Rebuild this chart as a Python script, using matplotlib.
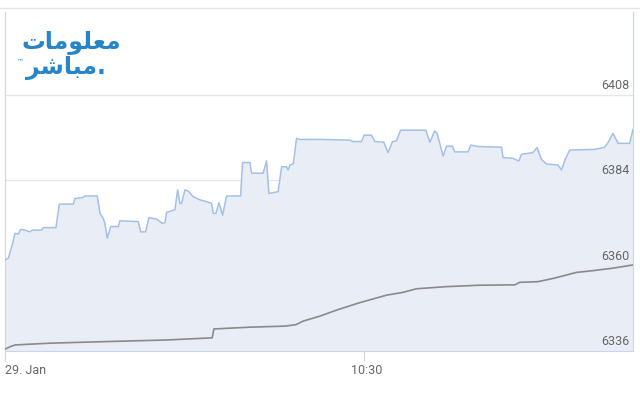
import matplotlib.pyplot as plt
from matplotlib.lines import Line2D

# minutes after the open (10:00)
blue_t = [0, 0.28, 0.56, 0.84, 1.11, 1.31, 1.67, 2.09, 2.28, 3.07, 3.20, 4.26,
          4.54, 5.71, 5.85, 6.54, 6.68, 7.71, 7.94, 8.21, 8.35, 8.55, 8.83, 9.47,
          9.61, 11.14, 11.34, 11.75, 12.03, 12.67, 13.14, 13.37, 13.51, 14.20,
          14.43, 14.62, 14.76, 15.04, 15.31, 15.73, 16.29, 16.85, 17.27, 17.40,
          17.63, 17.88, 18.19, 18.52, 19.69, 19.86, 20.47, 20.61, 21.58, 21.86,
          22.06, 22.83, 23.12, 23.53, 23.67, 23.81, 24.09, 24.37, 24.64, 26.32,
          28.82, 29.10, 29.80, 30.02, 30.63, 30.91, 31.66, 32.02, 32.39, 32.72,
          33.06, 35.17, 35.51, 35.92, 36.12, 36.62, 36.90, 37.40, 37.59, 38.71,
          38.93, 39.54, 41.50, 41.63, 42.46, 42.94, 43.17, 44.13, 44.47, 44.84,
          45.25, 46.22, 46.51, 46.84, 47.20, 49.29, 50.13, 50.40, 50.82, 51.24,
          52.21, 52.49]
blue_v = [6361.6, 6362.1, 6365.3, 6369.1, 6368.9, 6370.2, 6370.0, 6369.5, 6370.0,
          6370.0, 6370.7, 6370.7, 6377.3, 6377.3, 6378.9, 6379.2, 6379.6, 6379.6,
          6374.7, 6373.3, 6371.9, 6367.7, 6371.0, 6371.0, 6372.6, 6372.4, 6369.5,
          6369.5, 6373.5, 6373.1, 6371.9, 6372.1, 6375.0, 6375.7, 6381.3, 6377.5,
          6377.5, 6381.3, 6381.0, 6379.4, 6378.5, 6378.0, 6377.5, 6374.7, 6374.7,
          6377.7, 6374.2, 6379.6, 6379.6, 6389.0, 6389.0, 6386.0, 6386.0, 6389.5,
          6380.3, 6380.8, 6387.8, 6387.8, 6386.9, 6388.3, 6388.6, 6395.8, 6395.5,
          6395.5, 6395.3, 6394.9, 6394.9, 6396.7, 6396.7, 6394.9, 6394.7, 6391.8,
          6394.9, 6395.1, 6398.1, 6398.1, 6394.7, 6397.9, 6397.2, 6390.8, 6393.6,
          6393.6, 6392.0, 6392.0, 6393.9, 6393.5, 6393.3, 6390.4, 6390.2, 6389.4,
          6391.3, 6391.8, 6393.2, 6389.9, 6388.6, 6388.3, 6386.9, 6390.0, 6392.5,
          6392.7, 6393.3, 6394.6, 6397.2, 6394.4, 6394.4, 6398.3]

gray_t = [0, 0.42, 0.84, 3.76, 7.94, 13.51, 17.32, 17.46, 20.47, 23.39, 24.31,
          24.92, 26.32, 27.71, 29.66, 31.89, 33.28, 34.39, 36.90, 39.68, 42.61,
          43.02, 44.55, 45.81, 47.76, 49.15, 50.82, 52.49]
gray_v = [6336.5, 6337.2, 6337.7, 6338.2, 6338.6, 6339.1, 6339.7, 6342.2, 6342.7,
          6343.0, 6343.4, 6344.4, 6345.8, 6347.5, 6349.6, 6351.7, 6352.5, 6353.5,
          6354.1, 6354.5, 6354.6, 6355.3, 6355.5, 6356.4, 6358.1, 6358.6, 6359.3,
          6360.2]

y_ticks = [6336, 6360, 6384, 6408]
x_ticks = [0, 30]
x_labels = ["29. Jan", "10:30"]

label_kw = dict(family=["Roboto", "DejaVu Sans"], fontsize=9, color="#666666")

fig = plt.figure(figsize=(6.4, 4.0), dpi=100)
ax = fig.add_axes([5 / 640, 49 / 400, 628 / 640, 339 / 400])
ax.set_xlim(0, blue_t[-1])
ax.set_ylim(6336, 6336 + 339 / 3.556)

for v in y_ticks[1:]:
    ax.axhline(v, color="#e6e6e6", lw=1, zorder=0)

ax.fill_between(blue_t, blue_v, 6336, color="#e9edf5", lw=0, zorder=1)
ax.plot(blue_t, blue_v, color="#a3c0e5", lw=1.1, zorder=3)
ax.plot(gray_t, gray_v, color="#8a8a8a", lw=1.2, zorder=3)

for v in y_ticks:
    ax.annotate(str(v), xy=(1, v), xycoords=("axes fraction", "data"),
                xytext=(-3, 3), textcoords="offset pixels", ha="right", va="bottom",
                zorder=4, **label_kw)

ax.set_yticks([])
ax.set_xticks(x_ticks)
ax.set_xticklabels([])
ax.tick_params(axis="x", length=7, width=0.8, color="#ccd6eb", direction="out")
for t, lab in zip(x_ticks, x_labels):
    ax.annotate(lab, xy=(t, 0), xycoords=("data", "axes fraction"),
                xytext=(0 if t == 0 else 3, -19), textcoords="offset pixels",
                ha="left" if t == 0 else "center", va="center", **label_kw)

ax.spines["top"].set_visible(False)
ax.spines["bottom"].set_color("#ccd6eb")
ax.spines["left"].set_color("#d6d6d6")
ax.spines["right"].set_color("#c6d6ee")
for s in ax.spines.values():
    s.set_linewidth(0.8)

# outer frame line at the top
fig.add_artist(Line2D([0, 1], [392 / 400, 392 / 400], color="#e6e6e6", lw=1))

# logo (presentation forms, visual order)
logo_top = "\ufe95\ufe8e\ufee3\ufeee\ufee0\ufecc\ufee3"
logo_bot = "\ufeae\ufeb7\ufe8e\ufe92\ufee3."
fig.text(71 / 640, 1 - 42 / 400, logo_top, ha="center", va="center",
         fontsize=17, fontweight="bold", color="#2585c8", family="DejaVu Sans")
fig.text(66 / 640, 1 - 68 / 400, logo_bot, ha="center", va="center",
         fontsize=17, fontweight="bold", color="#2585c8", family="DejaVu Sans")
fig.text(21 / 640, 1 - 61 / 400, "\u2122", ha="center", va="center",
         fontsize=5, color="#2585c8")

fig.savefig("out.png", dpi=100)
